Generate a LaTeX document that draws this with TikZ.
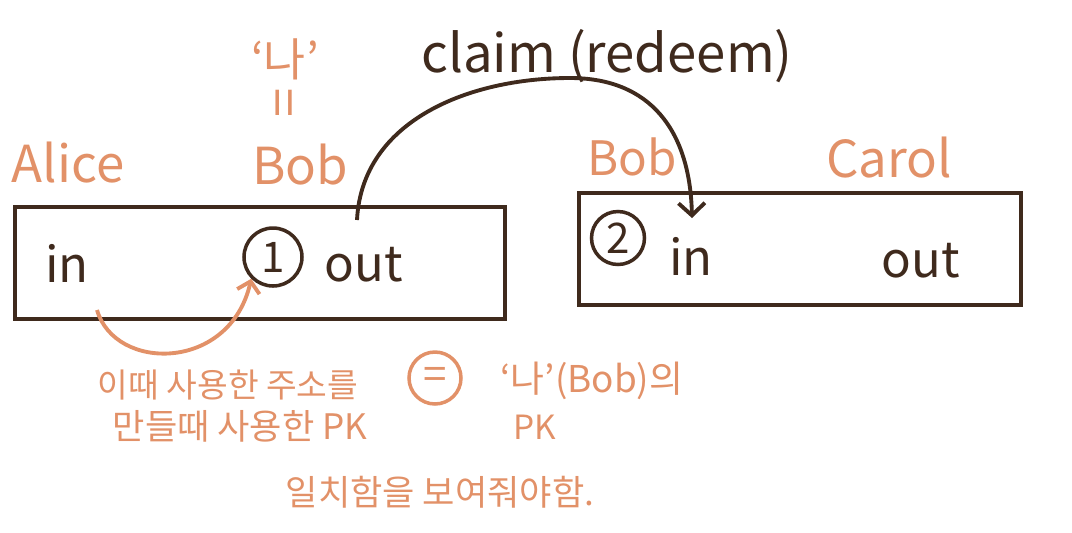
\documentclass[tikz,border=0pt]{standalone}
\usepackage{fontspec}
\setmainfont{Noto Sans CJK KR}
\usetikzlibrary{arrows.meta, positioning}
\definecolor{inkbrown}{rgb}{0.247, 0.165, 0.114}
\definecolor{inkorange}{rgb}{0.886, 0.569, 0.408}

\begin{document}
\begin{tikzpicture}[
	x=0.02cm, y=-0.02cm,
	texts/.style = {text=inkbrown, font=\fontsize{28}{30}\selectfont, anchor=base, inner sep=0pt},
	labeltexts/.style = {text=inkorange, font=\fontsize{29}{31}\selectfont, anchor=base, inner sep=0pt},
	notetexts/.style = {text=inkorange, font=\fontsize{19}{21}\selectfont, anchor=base, inner sep=0pt},
	boxline/.style = {draw=inkbrown, line width=2.2pt},
	boxnode/.style = {boxline, rectangle, minimum height=2.25cm},
	numnode/.style = {circle, draw=inkbrown, line width=2pt, text=inkbrown, font=\fontsize{24}{26}\selectfont, inner sep=0pt},
	eqnode/.style = {circle, draw=inkorange, line width=2pt, text=inkorange, font=\fontsize{24}{26}\selectfont, inner sep=0pt, minimum size=1.04cm},
	claimline/.style = {draw=inkbrown, line width=2.2pt, -{Straight Barb[length=7pt, width=15pt]}},
	linkline/.style = {draw=inkorange, line width=2.2pt, -{Straight Barb[length=6pt, width=13pt]}}
]
	\useasboundingbox (0,0) rectangle (1072,532);

	% channels
	\node[boxnode, minimum width=9.8cm] (chanab) at (260,263) {};
	\node[boxnode, minimum width=8.85cm] (chanbc) at (800,249) {};

	\node[labeltexts] (alice) at (68,182) {Alice};
	\node[labeltexts] (bobab) at (300,184) {Bob};
	\node[labeltexts, font=\fontsize{27}{29}\selectfont] (bobbc) at (632,175) {Bob};
	\node[labeltexts] (carol) at (889,177) {Carol};
	\node[labeltexts, font=\fontsize{26}{28}\selectfont] (nah) at (285,76) {`나'};
	\node[labeltexts, font=\fontsize{30}{32}\selectfont, anchor=center, rotate=90] (ditto) at (290,103) {=};

	\node[texts] (inab) at (67,282) {in};
	\node[numnode, minimum size=1.16cm] (stepone) at (273,257) {1};
	\node[texts] (outab) at (364,281) {out};
	\node[numnode, minimum size=1.06cm] (steptwo) at (618,238) {2};
	\node[texts] (inbc) at (691,275) {in};
	\node[texts] (outbc) at (921,277) {out};

	\node[texts, font=\fontsize{30}{32}\selectfont] (claimlbl) at (607,72) {claim (redeem)};
	\coordinate (claimfrom) at (357,220);
	\coordinate (claimtop) at (570,78);
	\coordinate (claimto) at (692,218);
	\draw[claimline] (claimfrom) .. controls (362,120) and (470,78) .. (claimtop)
		.. controls (650,78) and (690,130) .. (claimto);

	\coordinate (linkfrom) at (97,310);
	\draw[linkline] (linkfrom) .. controls (115,372) and (230,372) .. (stepone.south west);

	\node[notetexts] (noteaddr) at (228,397) {이때 사용한 주소를};
	\node[notetexts, font=\fontsize{20}{22}\selectfont] (notemake) at (240,439) {만들때 사용한 PK};
	\node[eqnode] (eqsign) at (435,378) {=};
	\node[notetexts, font=\fontsize{21}{23}\selectfont] (notebob) at (592,392) {`나'(Bob)의};
	\node[notetexts] (notepk) at (535,439) {PK};
	\node[notetexts, font=\fontsize{20}{22}\selectfont] (noteend) at (440,505) {일치함을 보여줘야함.};
\end{tikzpicture}
\end{document}
